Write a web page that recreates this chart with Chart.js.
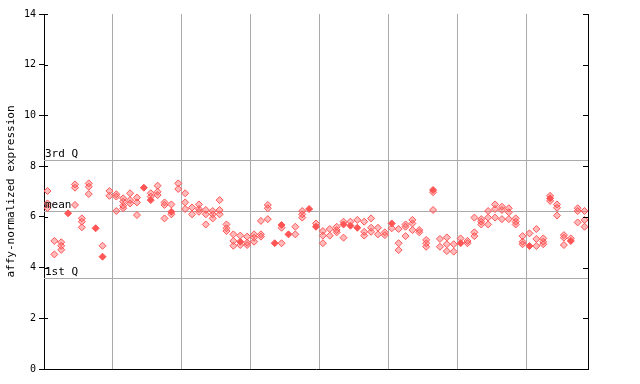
<!DOCTYPE html>
<html>
<head>
<meta charset="utf-8">
<script src="https://cdn.jsdelivr.net/npm/chart.js@4.4.1/dist/chart.umd.min.js"></script>
<style>
    html, body { margin: 0; padding: 0; background: #fff; }
    canvas { display: block; }
</style>
</head>
<body>
<canvas id="exprChart" width="640" height="384"></canvas>
<script>
// values per sample column (hollow markers)
const sampleValues = [
    [7.02, 6.53, 6.35], [5.05, 4.52], [5.0, 4.86, 4.7], [], [7.28, 7.15, 6.47],
    [5.94, 5.81, 5.59], [7.32, 7.19, 6.9], [], [4.86], [7.02, 6.83],
    [6.89, 6.8, 6.23], [6.73, 6.6, 6.44, 6.34], [6.93, 6.66, 6.53], [6.76, 6.57, 6.07], [],
    [6.93, 6.8], [7.23, 6.99, 6.86], [6.57, 6.47, 5.94], [6.49, 6.1], [7.32, 7.1],
    [6.93, 6.57, 6.31], [6.37, 6.1], [6.49, 6.31, 6.2], [6.27, 6.1, 5.7], [6.23, 6.1, 5.94],
    [6.66, 6.27, 6.1], [5.7, 5.55, 5.44], [5.31, 5.05, 4.86], [5.26, 4.89], [5.22, 4.98, 4.89],
    [5.31, 5.18, 5.02], [5.84, 5.31, 5.22], [6.47, 6.34, 5.91], [], [5.57, 4.96],
    [], [5.61, 5.31], [6.23, 6.1, 5.97], [], [5.74],
    [5.44, 5.26, 4.96], [5.52, 5.26], [5.61, 5.48, 5.39], [5.81, 5.18], [5.81],
    [5.88], [5.81, 5.41, 5.26], [5.94, 5.57, 5.41], [5.57, 5.31], [5.39, 5.28],
    [5.55], [5.52, 4.96, 4.69], [5.7, 5.61, 5.24], [5.88, 5.74, 5.48], [5.48, 5.39],
    [5.09, 4.96, 4.82], [6.97, 6.27], [5.13, 4.82], [5.19, 4.92, 4.65], [4.92, 4.63],
    [5.15], [5.05, 4.96], [5.97, 5.39, 5.24], [5.91, 5.81, 5.7], [6.23, 5.97, 5.7],
    [6.49, 6.31, 5.97], [6.4, 6.27, 5.91], [6.34, 6.18, 5.91], [5.94, 5.81, 5.7], [5.24, 5.02, 4.92],
    [5.35], [5.52, 5.13, 4.85], [5.15, 5.02, 4.92], [6.83, 6.63], [6.49, 6.36, 6.05],
    [5.28, 5.18, 4.89], [5.15], [6.34, 6.23, 5.78], [6.23, 5.88, 5.61]
];

// solid markers (column number, value)
const filledCols   = [4, 8, 9, 15, 16, 19, 29, 34, 35, 36, 39, 40, 44, 45, 46, 51, 57, 61, 71, 74, 77];
const filledValues = [6.14, 5.55, 4.43, 7.15, 6.66, 6.2, 5.02, 4.96, 5.68, 5.31, 6.31, 5.61, 5.7, 5.65, 5.57, 5.74, 7.06, 4.96, 4.85, 6.73, 5.05];

const yTicks = [0, 2, 4, 6, 8, 10, 12, 14];
const gridCols = [10, 20, 30, 40, 50, 60, 70];
const quartileLabels = ["3rd Q", "mean", "1st Q"];
const quartileValues = [8.24, 6.23, 3.6];

const RED = "#ff5555";
const FONT = "DejaVu Sans Mono";

let hollowPoints = [];
sampleValues.forEach((vals, i) => {
    vals.forEach(v => hollowPoints.push({ x: i + 0.5, y: v }));
});
let solidPoints = filledCols.map((c, i) => ({ x: c - 0.5, y: filledValues[i] }));

const refLines = {
    id: "refLines",
    beforeDatasetsDraw(chart) {
        const { ctx, chartArea: a, scales: { y } } = chart;
        ctx.save();
        ctx.strokeStyle = "#aaaaaa";
        ctx.lineWidth = 1;
        quartileValues.forEach(v => {
            const py = Math.round(y.getPixelForValue(v)) + 0.5;
            ctx.beginPath();
            ctx.moveTo(a.left, py);
            ctx.lineTo(a.right, py);
            ctx.stroke();
        });
        ctx.restore();
    },
    afterDatasetsDraw(chart) {
        const { ctx, chartArea: a, scales: { y } } = chart;
        ctx.save();
        ctx.fillStyle = "#000";
        ctx.font = "11px '" + FONT + "'";
        ctx.textBaseline = "bottom";
        quartileValues.forEach((v, i) => {
            const py = Math.round(y.getPixelForValue(v));
            ctx.fillText(quartileLabels[i], a.left + 1, py);
        });
        // right axis line + inner ticks on both sides
        ctx.strokeStyle = "#000";
        ctx.lineWidth = 1;
        ctx.beginPath();
        ctx.moveTo(a.right + 0.5, a.top);
        ctx.lineTo(a.right + 0.5, a.bottom);
        yTicks.forEach(v => {
            const py = Math.round(y.getPixelForValue(v)) + 0.5;
            ctx.moveTo(a.left, py);
            ctx.lineTo(a.left + 4, py);
            ctx.moveTo(a.right - 5, py);
            ctx.lineTo(a.right, py);
        });
        ctx.stroke();
        ctx.restore();
    }
};

new Chart(document.getElementById("exprChart"), {
    type: "scatter",
    data: {
        datasets: [
            {
                data: hollowPoints,
                pointStyle: "rectRot",
                pointRadius: 3.5,
                borderWidth: 1,
                borderColor: RED,
                backgroundColor: "rgba(255,85,85,0.4)"
            },
            {
                data: solidPoints,
                pointStyle: "rectRot",
                pointRadius: 3.5,
                borderWidth: 1,
                borderColor: RED,
                backgroundColor: RED
            }
        ]
    },
    options: {
        responsive: false,
        animation: false,
        layout: { padding: { top: 14, right: 52, bottom: 15, left: 0 } },
        plugins: { legend: { display: false }, tooltip: { enabled: false } },
        scales: {
            x: {
                type: "linear",
                min: 0,
                max: 79,
                afterBuildTicks: s => { s.ticks = gridCols.map(v => ({ value: v })); },
                ticks: { display: false },
                grid: { color: "#aaaaaa", drawTicks: false },
                border: { color: "#000" },
                afterFit: s => { s.height = 0; }
            },
            y: {
                min: 0,
                max: 14,
                afterBuildTicks: s => { s.ticks = yTicks.map(v => ({ value: v })); },
                ticks: { color: "#000", font: { family: FONT, size: 10 }, padding: 3, autoSkip: false },
                grid: { drawOnChartArea: false, tickLength: 5, color: "#000" },
                border: { color: "#000" },
                title: {
                    display: true,
                    text: "affy-normalized expression",
                    color: "#000",
                    font: { family: FONT, size: 11 },
                    padding: { top: 5, bottom: 0 }
                },
                afterFit: s => { s.width = 44; }
            }
        }
    },
    plugins: [refLines]
});
</script>
</body>
</html>
